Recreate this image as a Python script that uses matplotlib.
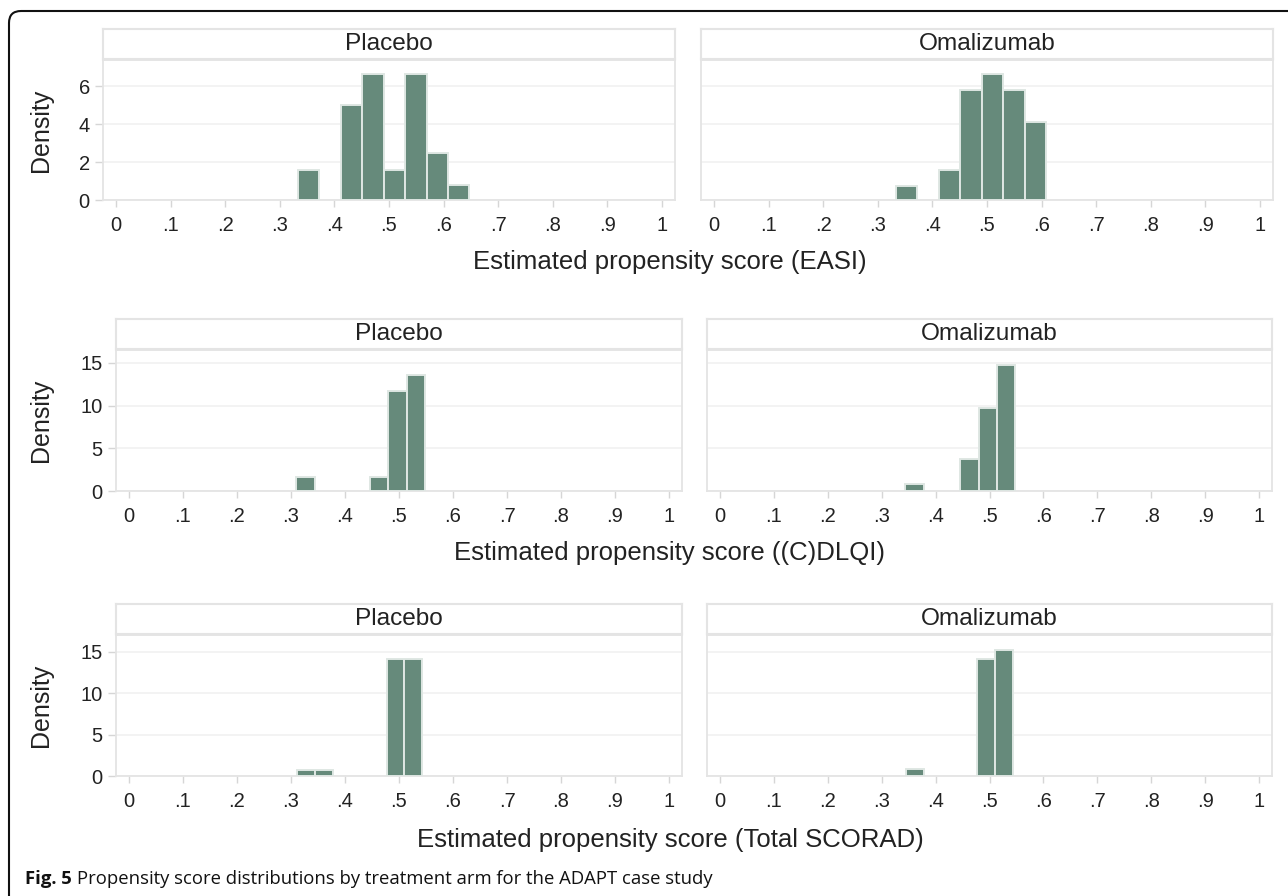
import numpy as np
import matplotlib
matplotlib.use('Agg')
import matplotlib.pyplot as plt
from matplotlib.patches import FancyBboxPatch
from matplotlib.transforms import IdentityTransform

# values (density histograms)
arms = ['Placebo', 'Omalizumab']
outcomes = ['EASI', '(C)DLQI', 'Total SCORAD']
bin_width = [0.0393, 0.034, 0.033]

easi_plc_left = [0.333, 0.412, 0.451, 0.490, 0.530, 0.569, 0.608]
easi_plc_dens = [1.6, 5.0, 6.65, 1.6, 6.65, 2.45, 0.8]
easi_oma_left = [0.333, 0.412, 0.451, 0.490, 0.530, 0.569]
easi_oma_dens = [0.75, 1.6, 5.8, 6.65, 5.8, 4.1]

dlqi_plc_left = [0.310, 0.446, 0.480, 0.514]
dlqi_plc_dens = [1.65, 1.65, 11.7, 13.6]
dlqi_oma_left = [0.344, 0.446, 0.480, 0.514]
dlqi_oma_dens = [0.8, 3.7, 9.7, 14.7]

scorad_plc_left = [0.312, 0.345, 0.477, 0.510]
scorad_plc_dens = [0.75, 0.75, 14.15, 14.15]
scorad_oma_left = [0.345, 0.477, 0.510]
scorad_oma_dens = [0.8, 14.1, 15.2]

y_ticks = [[0, 2, 4, 6], [0, 5, 10, 15], [0, 5, 10, 15]]
y_top = [7.37, 16.5, 17.0]
x_ticks = [0, .1, .2, .3, .4, .5, .6, .7, .8, .9, 1]
x_ticklabels = ['0', '.1', '.2', '.3', '.4', '.5', '.6', '.7', '.8', '.9', '1']

panels = [[(easi_plc_left, easi_plc_dens), (easi_oma_left, easi_oma_dens)],
          [(dlqi_plc_left, dlqi_plc_dens), (dlqi_oma_left, dlqi_oma_dens)],
          [(scorad_plc_left, scorad_plc_dens), (scorad_oma_left, scorad_oma_dens)]]

###################################################
W, H = 1288, 896
bar_clr = '#668a7b'
edge_clr = '#dfe7e3'
line_clr = '#e4e4e4'
txt_clr = '#222222'
font = ['Liberation Sans', 'DejaVu Sans']

# pixel layout: plot top/bottom per row, plot left/right per column
row_px = [(60, 200), (350, 491), (635, 776)]
col_px = [[(103, 675), (701, 1273)], [(116, 682), (707, 1272)], [(116, 682), (707, 1272)]]
title_y = [262, 553, 840]
hdr_h = 30


def px_axes(fig, l, t, r, b):
    return fig.add_axes([l / W, 1 - b / H, (r - l) / W, (b - t) / H])


fig = plt.figure(figsize=(W / 100, H / 100), dpi=100, facecolor='w')

for i in range(3):
    top, bot = row_px[i]
    for j in range(2):
        l, r = col_px[i][j]
        ax = px_axes(fig, l, top, r, bot)
        left, dens = panels[i][j]
        ax.bar(left, dens, width=bin_width[i], align='edge', color=bar_clr,
               edgecolor=edge_clr, linewidth=1.4, zorder=3)
        ax.set_xlim(-0.024, 1.024)
        ax.set_ylim(0, y_top[i])
        ax.set_xticks(x_ticks)
        ax.set_xticklabels(x_ticklabels)
        ax.set_yticks(y_ticks[i])
        ax.yaxis.grid(True, color='#f1f1f1', linewidth=1.2, zorder=0)
        ax.set_axisbelow(True)
        for s in ax.spines.values():
            s.set_color(line_clr)
            s.set_linewidth(1.3)
        ax.tick_params(axis='x', colors='#d6d6d6', length=5, width=1, pad=6.5,
                       labelcolor=txt_clr, labelsize=14.5)
        if j == 0:
            ax.tick_params(axis='y', colors='#d6d6d6', length=6, width=1, pad=3.5,
                           labelcolor=txt_clr, labelsize=14.5)
        else:
            ax.tick_params(axis='y', left=False, labelleft=False)
        for lab in ax.get_xticklabels() + ax.get_yticklabels():
            lab.set_family(font)

        # strip header above each panel
        hx = px_axes(fig, l, top - hdr_h - 1, r, top - 1)
        hx.set_xticks([])
        hx.set_yticks([])
        for s in hx.spines.values():
            s.set_color(line_clr)
            s.set_linewidth(1.5)
        hx.text(0.5, 0.5, arms[j], ha='center', va='center', fontsize=17.6,
                family=font, color=txt_clr, transform=hx.transAxes)

    fig.text(41 / W, 1 - (top + bot) / 2 / H, 'Density', rotation=90, ha='center',
             va='center', fontsize=18, family=font, color=txt_clr)
    fig.text(670 / W, 1 - title_y[i] / H, 'Estimated propensity score ({0})'.format(outcomes[i]),
             ha='center', va='center', fontsize=18.5, family=font, color=txt_clr)

# rounded frame of the journal figure box
frame = FancyBboxPatch((9, -60), 1400, H - 11 + 60, boxstyle='round,pad=0,rounding_size=12',
                       transform=IdentityTransform(), facecolor='none', edgecolor='#111111',
                       linewidth=1.5)
fig.add_artist(frame)

# caption, bold label then plain text
cap_y = 1 - 879 / H
t1 = fig.text(25 / W, cap_y, 'Fig. 5', fontsize=13.3, weight='bold', family='Open Sans',
              color='#111111', va='center')
fig.canvas.draw()
bb = t1.get_window_extent()
fig.text((bb.x1 + 5) / W, cap_y, 'Propensity score distributions by treatment arm for the ADAPT case study',
         fontsize=13.3, family='Open Sans', color='#111111', va='center')

plt.savefig('out.png', dpi=100, facecolor='w')
